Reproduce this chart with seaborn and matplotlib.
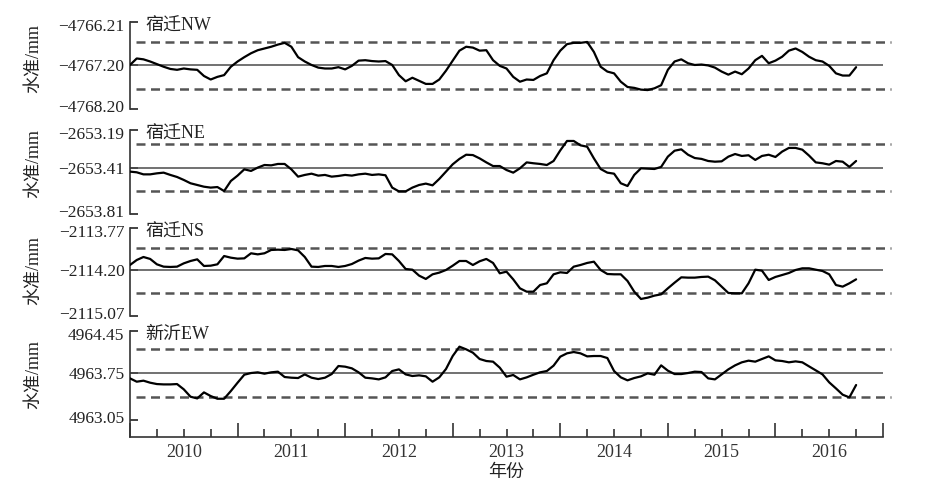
import numpy as np
import pandas as pd
import matplotlib
matplotlib.use("Agg")
import matplotlib.pyplot as plt
import matplotlib.transforms as mtransforms
import seaborn as sns

sns.set_style("ticks")
plt.rcParams["font.family"] = ["Liberation Serif", "Noto Sans CJK SC", "DejaVu Sans"]
plt.rcParams["axes.unicode_minus"] = True

# ---------------- data ----------------
years = 2009.5 + np.arange(109) / 16.0   # sampling grid (decimal years)

stations = ["宿迁NW", "宿迁NE", "宿迁NS", "新沂EW"]
tick_lo = [-4768.20, -2653.81, -2115.07, 4963.05]
tick_mid = [-4767.20, -2653.41, -2114.20, 4963.75]   # mean level (solid line)
tick_hi = [-4766.21, -2653.19, -2113.77, 4964.45]
upper_dash = [-4766.68, -2653.272, -2113.971, 4964.142]
lower_dash = [-4767.74, -2653.612, -2114.641, 4963.395]

nw = [-4767.20, -4767.05, -4767.07, -4767.12, -4767.18, -4767.24, -4767.29, -4767.31, -4767.28, -4767.30,
      -4767.31, -4767.45, -4767.53, -4767.47, -4767.43, -4767.24, -4767.12, -4767.02, -4766.93, -4766.86,
      -4766.82, -4766.78, -4766.73, -4766.69, -4766.78, -4767.02, -4767.12, -4767.20, -4767.26, -4767.28,
      -4767.28, -4767.25, -4767.30, -4767.22, -4767.10, -4767.09, -4767.11, -4767.12, -4767.11, -4767.20,
      -4767.43, -4767.57, -4767.49, -4767.56, -4767.63, -4767.63, -4767.53, -4767.33, -4767.10, -4766.87,
      -4766.78, -4766.80, -4766.87, -4766.86, -4767.09, -4767.22, -4767.28, -4767.47, -4767.58, -4767.53,
      -4767.54, -4767.45, -4767.39, -4767.09, -4766.87, -4766.72, -4766.69, -4766.69, -4766.67, -4766.90,
      -4767.24, -4767.35, -4767.39, -4767.58, -4767.70, -4767.72, -4767.76, -4767.77, -4767.73, -4767.66,
      -4767.31, -4767.12, -4767.07, -4767.16, -4767.20, -4767.19, -4767.21, -4767.26, -4767.35, -4767.42,
      -4767.35, -4767.41, -4767.28, -4767.09, -4766.99, -4767.16, -4767.10, -4767.01, -4766.87, -4766.82,
      -4766.90, -4767.01, -4767.09, -4767.12, -4767.22, -4767.39, -4767.44, -4767.44, -4767.25]

ne = [-2653.439, -2653.445, -2653.463, -2653.463, -2653.454, -2653.448, -2653.468, -2653.486, -2653.512, -2653.541,
      -2653.556, -2653.571, -2653.579, -2653.574, -2653.609, -2653.521, -2653.474, -2653.419, -2653.433, -2653.406,
      -2653.391, -2653.393, -2653.385, -2653.385, -2653.419, -2653.483, -2653.468, -2653.457, -2653.474, -2653.468,
      -2653.483, -2653.477, -2653.468, -2653.474, -2653.463, -2653.457, -2653.468, -2653.463, -2653.471, -2653.579,
      -2653.612, -2653.612, -2653.579, -2653.556, -2653.544, -2653.559, -2653.503, -2653.439, -2653.387, -2653.356,
      -2653.332, -2653.334, -2653.353, -2653.376, -2653.397, -2653.397, -2653.425, -2653.448, -2653.410, -2653.376,
      -2653.381, -2653.385, -2653.391, -2653.368, -2653.307, -2653.253, -2653.253, -2653.278, -2653.286, -2653.353,
      -2653.416, -2653.448, -2653.457, -2653.541, -2653.565, -2653.468, -2653.410, -2653.413, -2653.416, -2653.402,
      -2653.343, -2653.309, -2653.301, -2653.332, -2653.351, -2653.356, -2653.368, -2653.372, -2653.370, -2653.343,
      -2653.328, -2653.339, -2653.335, -2653.362, -2653.339, -2653.332, -2653.345, -2653.314, -2653.293, -2653.293,
      -2653.303, -2653.337, -2653.376, -2653.381, -2653.389, -2653.368, -2653.372, -2653.402, -2653.368]

ns = [-2114.149, -2114.098, -2114.067, -2114.087, -2114.142, -2114.166, -2114.169, -2114.166, -2114.132, -2114.108,
      -2114.091, -2114.159, -2114.156, -2114.142, -2114.057, -2114.074, -2114.084, -2114.081, -2114.029, -2114.040,
      -2114.029, -2113.995, -2113.992, -2113.995, -2113.985, -2113.999, -2114.067, -2114.166, -2114.169, -2114.159,
      -2114.159, -2114.169, -2114.159, -2114.139, -2114.104, -2114.077, -2114.084, -2114.081, -2114.036, -2114.040,
      -2114.108, -2114.190, -2114.197, -2114.307, -2114.370, -2114.282, -2114.250, -2114.200, -2114.156, -2114.108,
      -2114.108, -2114.149, -2114.111, -2114.087, -2114.128, -2114.263, -2114.232, -2114.377, -2114.547, -2114.610,
      -2114.610, -2114.484, -2114.452, -2114.282, -2114.244, -2114.257, -2114.166, -2114.149, -2114.128, -2114.115,
      -2114.200, -2114.276, -2114.282, -2114.282, -2114.408, -2114.610, -2114.748, -2114.723, -2114.685, -2114.660,
      -2114.547, -2114.440, -2114.339, -2114.345, -2114.345, -2114.332, -2114.326, -2114.395, -2114.515, -2114.635,
      -2114.641, -2114.641, -2114.452, -2114.197, -2114.213, -2114.389, -2114.332, -2114.295, -2114.257, -2114.200,
      -2114.183, -2114.183, -2114.197, -2114.219, -2114.282, -2114.484, -2114.515, -2114.452, -2114.377]

ew = [4963.666, 4963.617, 4963.632, 4963.602, 4963.582, 4963.577, 4963.577, 4963.582, 4963.504, 4963.395,
      4963.370, 4963.459, 4963.405, 4963.365, 4963.365, 4963.479, 4963.602, 4963.720, 4963.745, 4963.756,
      4963.735, 4963.756, 4963.767, 4963.686, 4963.676, 4963.671, 4963.725, 4963.676, 4963.656, 4963.676,
      4963.730, 4963.862, 4963.851, 4963.823, 4963.756, 4963.676, 4963.666, 4963.651, 4963.681, 4963.778,
      4963.806, 4963.725, 4963.701, 4963.711, 4963.696, 4963.617, 4963.681, 4963.812, 4964.030, 4964.187,
      4964.142, 4964.086, 4963.980, 4963.946, 4963.935, 4963.834, 4963.691, 4963.716, 4963.651, 4963.681,
      4963.720, 4963.756, 4963.778, 4963.868, 4964.019, 4964.075, 4964.097, 4964.075, 4964.024, 4964.030,
      4964.030, 4963.996, 4963.778, 4963.681, 4963.637, 4963.671, 4963.696, 4963.740, 4963.720, 4963.873,
      4963.784, 4963.730, 4963.730, 4963.745, 4963.767, 4963.761, 4963.666, 4963.651, 4963.725, 4963.806,
      4963.873, 4963.924, 4963.952, 4963.935, 4963.980, 4964.024, 4963.957, 4963.946, 4963.924, 4963.940,
      4963.924, 4963.856, 4963.789, 4963.725, 4963.607, 4963.518, 4963.425, 4963.385, 4963.568]

series = [nw, ne, ns, ew]
year_labels = [2010, 2011, 2012, 2013, 2014, 2015, 2016]

# ---------------- layout ----------------
W, H = 943, 488
fig = plt.figure(figsize=(W / 100, H / 100), dpi=100)
left_px, right_px = 130, 883
panel_px = [(22, 109), (130, 214), (228, 316), (331, 437)]   # (top, bottom) pixel rows
mid_frac = [0.506, 0.544, 0.523, 0.532]                       # position of mean tick in panel
label_y = [0.585, 0.60, 0.52, 0.585]
ew_bottom = 4962.80


def make_scale(lo, mid, hi, f):
    def fwd(v):
        v = np.asarray(v, dtype=float)
        return np.where(v >= mid, f + (v - mid) / (hi - mid) * (1 - f),
                        f * (v - lo) / (mid - lo))

    def inv(u):
        u = np.asarray(u, dtype=float)
        return np.where(u >= f, mid + (u - f) / (1 - f) * (hi - mid),
                        lo + u / f * (mid - lo))
    return fwd, inv


def fmt(v):
    return f"{v:.2f}".replace("-", "\u2212")


axes = []
for i in range(4):
    top, bot = panel_px[i]
    ax = fig.add_axes([left_px / W, 1 - bot / H, (right_px - left_px) / W, (bot - top) / H])
    axes.append(ax)
    lo, mid, hi = tick_lo[i], tick_mid[i], tick_hi[i]
    ax.set_yscale("function", functions=make_scale(lo, mid, hi, mid_frac[i]))

    df = pd.DataFrame({"year": years, "value": series[i]})
    sns.lineplot(data=df, x="year", y="value", ax=ax, color="black", lw=1.6, zorder=3)

    ax.axhline(mid, color="#4a4a4a", lw=1.1, zorder=2)
    for d in (upper_dash[i], lower_dash[i]):
        ax.axhline(d, xmin=0.008, xmax=1.011, color="#555555", lw=1.8,
                   linestyle=(0, (3.6, 2.2)), clip_on=False, zorder=2)

    ax.set_xlim(2009.5, 2016.5)
    if i < 3:
        ax.set_ylim(lo, hi)
    else:
        ax.set_ylim(ew_bottom, hi)

    ax.set_yticks([lo, mid, hi], labels=[fmt(lo), fmt(mid), fmt(hi)])
    ax.yaxis.set_minor_locator(matplotlib.ticker.NullLocator())
    ax.tick_params(axis="y", direction="in", length=6, width=1.2, pad=4,
                   labelsize=12.5, colors="#222222")
    ax.set_ylabel("水准/mm", fontsize=13, color="#222222")
    ax.yaxis.set_label_coords(-0.116, label_y[i])

    for s in ("top", "right"):
        ax.spines[s].set_visible(False)
    ax.spines["left"].set_linewidth(1.2)
    ax.spines["left"].set_color("#333333")

    ax.annotate(stations[i], xy=(0, 1), xycoords="axes fraction", xytext=(15, -4),
                textcoords="offset pixels", ha="left", va="center", fontsize=13,
                color="#222222")

    if i < 3:
        ax.spines["bottom"].set_visible(False)
        ax.tick_params(axis="x", which="both", bottom=False, labelbottom=False)
        ax.set_xlabel("")
    else:
        ax.spines["bottom"].set_linewidth(1.2)
        ax.spines["bottom"].set_color("#333333")
        mid_years = np.arange(2009.5, 2016.51, 1.0)
        quarters = [q for q in np.arange(2009.75, 2016.5, 0.25) if (q % 1) != 0.5]
        ax.set_xticks(mid_years, labels=[""] * len(mid_years))
        ax.set_xticks(quarters, minor=True,
                      labels=[str(int(q)) if (q % 1) == 0 and int(q) in year_labels else ""
                              for q in quarters])
        ax.tick_params(axis="x", which="major", direction="in", length=10, width=1.2,
                       colors="#333333")
        ax.tick_params(axis="x", which="minor", direction="in", length=6, width=1.2,
                       labelsize=13, pad=5, colors="#333333")
        ax.set_xlabel("年份", fontsize=13, labelpad=2, color="#222222")

    # nudge end labels slightly inward so neighbouring panels' labels do not collide
    yticks = ax.yaxis.get_major_ticks()
    shifts = [3, 0, -3]
    for tk, dy in zip(yticks, shifts):
        if dy:
            tk.label1.set_transform(tk.label1.get_transform() +
                                    mtransforms.ScaledTranslation(0, dy / 100, fig.dpi_scale_trans))

fig.savefig("out.png", dpi=100)
